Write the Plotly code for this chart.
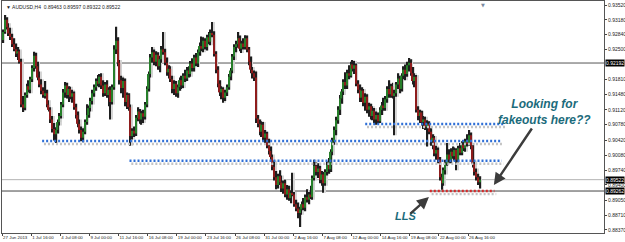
import plotly.graph_objects as go

# ---------------- data (prices in pips: price x 10000) ----------------
DATE_LABELS = ["27 Jun 2013", "1 Jul 16:00", "4 Jul 08:00", "9 Jul 00:00", "11 Jul 16:00",
               "16 Jul 08:00", "19 Jul 00:00", "23 Jul 16:00", "26 Jul 08:00", "31 Jul 00:00",
               "2 Aug 16:00", "7 Aug 08:00", "12 Aug 00:00", "14 Aug 16:00", "19 Aug 08:00",
               "22 Aug 00:00", "26 Aug 16:00"]
BARS_PER_LABEL = 16

OPEN = [9272, 9290, 9318, 9301, 9287, 9279, 9262, 9251, 9241, 9246, 9222, 9124, 9117, 9146, 9166, 9158,
        9182, 9208, 9236, 9212, 9186, 9170, 9156, 9146, 9150, 9124, 9112, 9090, 9068, 9056, 9066, 9084,
        9098, 9124, 9152, 9168, 9146, 9160, 9142, 9150, 9118, 9100, 9080, 9066, 9048, 9062, 9084, 9100,
        9116, 9132, 9150, 9164, 9178, 9172, 9188, 9168, 9150, 9170, 9146, 9158, 9130, 9164, 9250, 9270,
        9220, 9180, 9162, 9178, 9130, 9146, 9118, 9052, 9064, 9058, 9094, 9108, 9090, 9104, 9096, 9124,
        9160, 9194, 9232, 9244, 9222, 9238, 9212, 9228, 9250, 9244, 9220, 9198, 9206, 9182, 9160, 9172,
        9150, 9164, 9180, 9168, 9190, 9184, 9202, 9194, 9218, 9208, 9232, 9218, 9244, 9258, 9252, 9270,
        9256, 9278, 9268, 9288, 9284, 9240, 9204, 9172, 9152, 9160, 9140, 9152, 9164, 9188, 9202, 9234,
        9256, 9262, 9276, 9252, 9264, 9256, 9276, 9250, 9222, 9204, 9196, 9186, 9092, 9080, 9062, 9078,
        9048, 9058, 9030, 9018, 9004, 8982, 8958, 8940, 8960, 8946, 8932, 8944, 8918, 8930, 8910, 8922,
        8918, 8896, 8886, 8876, 8884, 8896, 8888, 8912, 8906, 8918, 8912, 8956, 8984, 8970, 8978, 8952,
        8964, 8944, 8970, 8986, 8976, 9016, 9040, 9066, 9088, 9112, 9138, 9154, 9176, 9168, 9196, 9190,
        9216, 9206, 9214, 9172, 9158, 9140, 9156, 9128, 9142, 9112, 9120, 9098, 9110, 9090, 9100, 9086,
        9112, 9122, 9116, 9136, 9160, 9148, 9166, 9144, 9150, 9170, 9184, 9160, 9190, 9204, 9194, 9214,
        9220, 9196, 9178, 9188, 9112, 9098, 9106, 9084, 9090, 9072, 9080, 9062, 9040, 9048, 9012, 9020,
        8998, 8958, 8944, 8974, 8990, 9010, 8998, 9016, 9006, 9020, 8998, 9024, 9014, 9032, 9024, 9040,
        9034, 9054, 9030, 8988, 8970, 8958, 8946]
HIGH = [9296, 9329, 9324, 9310, 9300, 9286, 9276, 9264, 9256, 9250, 9229, 9144, 9152, 9172, 9180, 9188,
        9214, 9245, 9243, 9222, 9200, 9182, 9164, 9178, 9158, 9134, 9118, 9098, 9082, 9072, 9090, 9105,
        9130, 9160, 9176, 9174, 9166, 9165, 9158, 9154, 9126, 9108, 9090, 9074, 9070, 9090, 9125, 9122,
        9140, 9158, 9170, 9184, 9192, 9194, 9196, 9180, 9176, 9180, 9164, 9166, 9170, 9260, 9302, 9278,
        9226, 9190, 9186, 9184, 9152, 9150, 9124, 9070, 9074, 9100, 9118, 9114, 9110, 9112, 9130, 9166,
        9200, 9240, 9256, 9250, 9246, 9244, 9236, 9258, 9290, 9252, 9232, 9214, 9212, 9190, 9180, 9178,
        9170, 9186, 9190, 9196, 9204, 9210, 9212, 9224, 9230, 9238, 9242, 9250, 9266, 9280, 9278, 9276,
        9284, 9290, 9296, 9313, 9292, 9246, 9212, 9180, 9166, 9164, 9158, 9170, 9194, 9208, 9240, 9262,
        9270, 9290, 9282, 9270, 9276, 9283, 9282, 9256, 9234, 9210, 9202, 9200, 9100, 9090, 9086, 9084,
        9066, 9062, 9046, 9028, 9010, 8996, 8972, 8966, 8974, 8962, 8950, 8952, 8940, 8938, 8928, 8968,
        8924, 8906, 8900, 8890, 8902, 8910, 8918, 8930, 8924, 8938, 8962, 8998, 8992, 8990, 8984, 8972,
        8970, 8976, 8994, 9002, 9022, 9048, 9074, 9096, 9120, 9146, 9160, 9182, 9198, 9204, 9214, 9222,
        9226, 9224, 9218, 9180, 9170, 9164, 9160, 9150, 9148, 9128, 9126, 9120, 9116, 9108, 9106, 9118,
        9130, 9140, 9144, 9166, 9180, 9172, 9174, 9158, 9176, 9196, 9190, 9196, 9212, 9216, 9222, 9231,
        9228, 9210, 9196, 9192, 9120, 9112, 9110, 9098, 9096, 9088, 9086, 9070, 9056, 9052, 9030, 9026,
        9004, 8966, 8980, 8998, 9036, 9022, 9024, 9028, 9026, 9024, 9030, 9036, 9040, 9043, 9046, 9056,
        9066, 9060, 9036, 8996, 8978, 8966, 8960]
LOW = [9265, 9286, 9296, 9281, 9272, 9256, 9246, 9233, 9226, 9218, 9118, 9107, 9111, 9140, 9152, 9150,
       9176, 9200, 9206, 9180, 9164, 9148, 9140, 9138, 9118, 9108, 9082, 9060, 9042, 9036, 9058, 9076,
       9092, 9118, 9140, 9138, 9130, 9136, 9128, 9112, 9092, 9072, 9058, 9040, 9038, 9056, 9078, 9094,
       9108, 9124, 9142, 9156, 9166, 9164, 9160, 9142, 9144, 9140, 9120, 9090, 9124, 9158, 9240, 9212,
       9170, 9150, 9140, 9120, 9114, 9110, 9030, 9044, 9050, 9052, 9086, 9080, 9078, 9082, 9090, 9118,
       9154, 9186, 9220, 9214, 9212, 9204, 9198, 9220, 9238, 9214, 9190, 9184, 9176, 9150, 9146, 9142,
       9140, 9156, 9160, 9162, 9176, 9178, 9186, 9188, 9200, 9200, 9212, 9210, 9236, 9246, 9244, 9250,
       9248, 9262, 9260, 9278, 9234, 9196, 9164, 9144, 9136, 9128, 9132, 9144, 9158, 9180, 9196, 9226,
       9244, 9254, 9246, 9242, 9250, 9250, 9244, 9214, 9196, 9184, 9178, 9082, 9072, 9054, 9050, 9040,
       9036, 9024, 9010, 8998, 8974, 8950, 8930, 8932, 8940, 8924, 8920, 8912, 8906, 8904, 8898, 8914,
       8890, 8880, 8864, 8844, 8872, 8882, 8880, 8900, 8896, 8908, 8906, 8950, 8962, 8956, 8944, 8938,
       8922, 8938, 8962, 8966, 8970, 9008, 9032, 9054, 9080, 9100, 9126, 9146, 9160, 9160, 9182, 9186,
       9200, 9194, 9166, 9150, 9130, 9130, 9120, 9110, 9104, 9096, 9090, 9088, 9082, 9078, 9080, 9082,
       9100, 9110, 9110, 9128, 9140, 9140, 9138, 9054, 9142, 9160, 9150, 9154, 9182, 9180, 9188, 9200,
       9190, 9170, 9164, 9106, 9088, 9082, 9076, 9068, 9066, 9028, 9056, 9030, 9022, 9006, 8998, 8990,
       8950, 8929, 8938, 8964, 8984, 8990, 8990, 9000, 8996, 8974, 8992, 9008, 9008, 9018, 9016, 9028,
       9030, 9022, 8980, 8962, 8950, 8940, 8932]
CLOSE = [9290, 9318, 9301, 9287, 9279, 9262, 9251, 9241, 9246, 9222, 9124, 9117, 9146, 9166, 9158, 9182,
         9208, 9236, 9212, 9186, 9170, 9156, 9146, 9150, 9124, 9112, 9090, 9068, 9056, 9066, 9084, 9098,
         9124, 9152, 9168, 9146, 9160, 9142, 9150, 9118, 9100, 9080, 9066, 9048, 9062, 9084, 9100, 9116,
         9132, 9150, 9164, 9178, 9172, 9188, 9168, 9150, 9170, 9146, 9158, 9130, 9164, 9250, 9270, 9220,
         9180, 9162, 9178, 9130, 9146, 9118, 9052, 9064, 9058, 9094, 9108, 9090, 9104, 9096, 9124, 9160,
         9194, 9232, 9244, 9222, 9238, 9212, 9228, 9250, 9244, 9220, 9198, 9206, 9182, 9160, 9172, 9150,
         9164, 9180, 9168, 9190, 9184, 9202, 9194, 9218, 9208, 9232, 9218, 9244, 9258, 9252, 9270, 9256,
         9278, 9268, 9288, 9284, 9240, 9204, 9172, 9152, 9160, 9140, 9152, 9164, 9188, 9202, 9234, 9256,
         9262, 9276, 9252, 9264, 9256, 9276, 9250, 9222, 9204, 9196, 9186, 9092, 9080, 9062, 9078, 9048,
         9058, 9030, 9018, 9004, 8982, 8958, 8940, 8960, 8946, 8932, 8944, 8918, 8930, 8910, 8922, 8918,
         8896, 8886, 8876, 8884, 8896, 8888, 8912, 8906, 8918, 8912, 8956, 8984, 8970, 8978, 8952, 8964,
         8944, 8970, 8986, 8976, 9016, 9040, 9066, 9088, 9112, 9138, 9154, 9176, 9168, 9196, 9190, 9216,
         9206, 9214, 9172, 9158, 9140, 9156, 9128, 9142, 9112, 9120, 9098, 9110, 9090, 9100, 9086, 9112,
         9122, 9116, 9136, 9160, 9148, 9166, 9144, 9150, 9170, 9184, 9160, 9190, 9204, 9194, 9214, 9220,
         9196, 9178, 9188, 9112, 9098, 9106, 9084, 9090, 9072, 9080, 9062, 9040, 9048, 9012, 9020, 8998,
         8958, 8944, 8974, 8990, 9010, 8998, 9016, 9006, 9020, 8998, 9024, 9014, 9032, 9024, 9040, 9034,
         9054, 9030, 8988, 8970, 8958, 8946, 8952]
PIP = 10000.0

Y_TICKS = [0.93520, 0.93180, 0.92840, 0.92500, 0.91810, 0.91480, 0.91120, 0.90780, 0.90420,
           0.90080, 0.89740, 0.89400, 0.89050, 0.88710, 0.88370]

# horizontal levels
TOP_LINE = 0.92192
BID_LINE = 0.89522
SUPPORT_LINE = 0.89262
# dotted zones: (price, start bar, end bar, colour)
ZONES = [(0.90796, 199, 275.5, "#2f6fd6"),
         (0.90407, 21.5, 274, "#2f6fd6"),
         (0.89956, 69.5, 274, "#2f6fd6"),
         (0.89262, 234.5, 270, "#d42a2a")]

TITLE = "▼ AUDUSD,H4  0.89463 0.89597 0.89322 0.89522"

# ---------------- figure ----------------
o = [v / PIP for v in OPEN]
h = [v / PIP for v in HIGH]
l = [v / PIP for v in LOW]
c = [v / PIP for v in CLOSE]
xs = list(range(len(CLOSE)))
body_base = [min(a, b) for a, b in zip(o, c)]
body_len = [max(abs(b - a), 0.00004) for a, b in zip(o, c)]
wick_len = [hi - lo for hi, lo in zip(h, l)]
body_col = ["#267f2a" if b >= a else "#8e1c1c" for a, b in zip(o, c)]

fig = go.Figure()
# light grey "shadow" of the candles
fig.add_trace(go.Bar(x=[i + 0.75 for i in xs], y=wick_len, base=l, width=0.55,
                     marker=dict(color="#d6d6d6", line=dict(width=0)), hoverinfo="skip"))
fig.add_trace(go.Bar(x=[i + 0.75 for i in xs], y=body_len, base=body_base, width=0.7,
                     marker=dict(color="#d2d2d2", line=dict(width=0)), hoverinfo="skip"))
# wicks
fig.add_trace(go.Bar(x=xs, y=wick_len, base=l, width=0.55,
                     marker=dict(color="#1e1e1e", line=dict(width=0)), hoverinfo="skip"))
# bodies
fig.add_trace(go.Bar(x=xs, y=body_len, base=body_base, width=0.7,
                     marker=dict(color=body_col, line=dict(width=0)),
                     customdata=list(zip(o, h, l, c)),
                     hovertemplate="O %{customdata[0]:.5f}<br>H %{customdata[1]:.5f}"
                                   "<br>L %{customdata[2]:.5f}<br>C %{customdata[3]:.5f}<extra></extra>"))

shapes = []
for lvl, col in [(TOP_LINE, "#555555"), (BID_LINE, "#b4b4b4"), (SUPPORT_LINE, "#444444")]:
    shapes.append(dict(type="line", xref="paper", x0=0, x1=1, yref="y", y0=lvl, y1=lvl,
                       line=dict(color=col, width=1), layer="below"))
for price, b0, b1, col in ZONES:
    shapes.append(dict(type="line", xref="x", x0=b0 + 1, x1=b1 + 1, yref="y",
                       ysizemode="pixel", yanchor=price, y0=-3, y1=-3,
                       line=dict(color="#c4c4c4", width=2.5, dash="2px,2px")))
    shapes.append(dict(type="line", xref="x", x0=b0, x1=b1, yref="y", y0=price, y1=price,
                       line=dict(color=col, width=2.5, dash="2px,2px")))

annotations = []
for lvl in (TOP_LINE, BID_LINE, SUPPORT_LINE):
    annotations.append(dict(xref="paper", x=1, xanchor="left", xshift=1, yref="y", y=lvl,
                            text=f"{lvl:.5f}", showarrow=False, bgcolor="#000000",
                            font=dict(family="Liberation Sans", size=5, color="#ffffff"),
                            borderpad=0))
annotations.append(dict(xref="paper", yref="paper", x=0, y=1, xanchor="left", yanchor="top",
                        xshift=2, yshift=-1, text=TITLE, showarrow=False,
                        font=dict(family="Liberation Sans", size=5, color="#222222")))
annotations.append(dict(xref="x", yref="paper", x=263.5, y=1, yanchor="top", yshift=1,
                        text="▼", showarrow=False,
                        font=dict(family="DejaVu Sans", size=5, color="#7a8aa0")))
teal = "#1b6b7b"
annotations.append(dict(xref="x", yref="y", x=297.5, y=0.91071,
                        text="<b><i>Looking for<br>fakeouts here??</i></b>", showarrow=False,
                        align="center", font=dict(family="Liberation Sans", size=12, color=teal)))
annotations.append(dict(xref="x", yref="y", x=221, y=0.88691, text="<b><i>LLS</i></b>",
                        showarrow=False, font=dict(family="Liberation Sans", size=11, color=teal)))
annotations.append(dict(xref="x", yref="y", x=269.7, y=0.89400, ax=39, ay=-58, text="",
                        showarrow=True, arrowhead=2, arrowsize=1, arrowwidth=2.4,
                        arrowcolor="#3c3c3c"))
annotations.append(dict(xref="x", yref="y", x=234, y=0.89125, ax=-20, ay=18, text="",
                        showarrow=True, arrowhead=2, arrowsize=1, arrowwidth=2.4,
                        arrowcolor="#3c3c3c"))

fig.update_layout(
    width=625, height=242, margin=dict(l=2, r=21, t=1, b=9, autoexpand=False),
    paper_bgcolor="#ffffff", plot_bgcolor="#ffffff", barmode="overlay",
    shapes=shapes, annotations=annotations, showlegend=False,
    xaxis=dict(range=[-0.55, 330.2], showgrid=False,
               zeroline=False, showline=True, linecolor="#555555", linewidth=1, mirror=True,
               automargin=False, tickangle=0,
               tickmode="array",
               tickvals=[BARS_PER_LABEL * k - 0.5 for k in range(len(DATE_LABELS))],
               ticktext=DATE_LABELS, ticks="outside", ticklen=2, tickcolor="#444444",
               ticklabelposition="outside right",
               tickfont=dict(family="Liberation Sans", size=4.4, color="#222222")),
    yaxis=dict(range=[0.88301, 0.93612], side="right", showgrid=False, zeroline=False,
               showline=True, linecolor="#555555", linewidth=1, mirror=True,
               automargin=False,
               tickmode="array", tickvals=Y_TICKS, tickformat=".5f",
               ticks="outside", ticklen=2, tickcolor="#444444",
               tickfont=dict(family="Liberation Sans", size=5, color="#222222")),
)

fig.write_html("out.html")
